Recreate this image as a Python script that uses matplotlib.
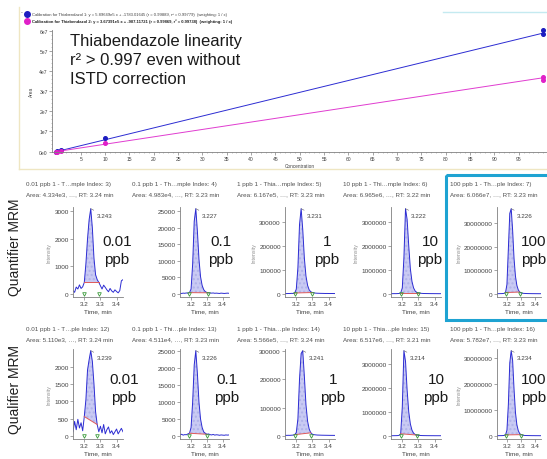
import numpy as np
import matplotlib
matplotlib.use('Agg')
import matplotlib.pyplot as plt
from matplotlib.patches import Rectangle
from matplotlib.ticker import FuncFormatter, MultipleLocator

plt.rcParams['font.family'] = ['Liberation Sans', 'DejaVu Sans']

W, H = 547, 460

# calibration data
conc_1 = [0.01, 0.1, 1, 10, 100, 100]
area_1 = [4.334e3, 4.983e4, 6.167e5, 6.965e6, 6.07e7, 5.85e7]
conc_2 = [0.01, 0.1, 1, 10, 100, 100]
area_2 = [2.6e3, 3.1e4, 3.8e5, 4.2e6, 3.72e7, 3.58e7]
slope_1, icpt_1 = 5.89649e5, -1783.01645
slope_2, icpt_2 = 3.67391e5, -907.11721
legend_1 = ('Calibration for Thiabendazol 1: y = 5.89649e5 x + -1783.01645 '
            '(r = 0.99889, r² = 0.99779)  (weighting: 1 / x)')
legend_2 = ('Calibration for Thiabendazol 2: y = 3.67391e5 x + -907.11721 '
            '(r = 0.99869, r² = 0.99738)  (weighting: 1 / x)')
cal_xticks = [5, 10, 15, 20, 25, 30, 35, 40, 45, 50, 55, 60, 65, 70, 75, 80, 85, 90, 95]
cal_yticks = [0, 1e7, 2e7, 3e7, 4e7, 5e7, 6e7]

# chromatograms
time = [3.13, 3.14, 3.15, 3.16, 3.17, 3.18, 3.19, 3.20, 3.21, 3.22, 3.23,
        3.24, 3.25, 3.26, 3.27, 3.28, 3.29, 3.30, 3.31, 3.32, 3.33, 3.34,
        3.35, 3.36, 3.37, 3.38, 3.39, 3.40, 3.41, 3.42, 3.43, 3.44]

quant = [
    [120, 60, 250, 180, 330, 200, 260, 420, 1100, 2000, 2700, 3100, 2400, 1300, 700, 520,
     420, 300, 180, 320, 240, 150, 80, 200, 110, 60, 150, 90, 40, 120, 480, 520],
    [200, 150, 250, 200, 300, 250, 400, 1500, 9000, 22000, 25800, 19000, 10500, 5200, 2600, 1300,
     700, 450, 350, 300, 250, 300, 200, 250, 200, 150, 250, 200, 150, 200, 250, 200],
    [2000, 1500, 2000, 1800, 2500, 2200, 4000, 20000, 110000, 290000, 357000, 270000, 150000,
     75000, 36000, 17000, 9000, 6000, 4500, 3500, 3000, 2800, 2500, 2400, 2200, 2000, 2100,
     1900, 1800, 1900, 1800, 1700],
    [15000, 12000, 14000, 13000, 16000, 20000, 40000, 250000, 1500000, 3550000, 3100000,
     2000000, 1050000, 520000, 250000, 120000, 65000, 40000, 30000, 25000, 20000, 18000,
     17000, 16000, 15000, 14000, 14000, 13000, 13000, 12000, 12000, 12000],
    [1.5e5, 1.2e5, 1.4e5, 1.5e5, 1.8e5, 2.5e5, 6e5, 4e6, 1.9e7, 3.4e7, 3.6e7, 2.7e7, 1.5e7,
     7.5e6, 3.6e6, 1.7e6, 8e5, 4.5e5, 3e5, 2.4e5, 2e5, 1.8e5, 1.6e5, 1.5e5, 1.4e5, 1.3e5,
     1.3e5, 1.2e5, 1.2e5, 1.1e5, 1.1e5, 1.1e5],
]
qual = [
    [120, 420, 180, 480, 230, 380, 150, 560, 1050, 1900, 2200, 2460, 2150, 1500, 700, 330,
     120, 280, 90, 330, 60, 180, 260, 80, 150, 40, 120, 200, 60, 140, 220, 120],
    [300, 500, 250, 400, 350, 600, 800, 2500, 10000, 21000, 25200, 18500, 10000, 5000, 2500,
     1200, 800, 500, 600, 400, 300, 450, 250, 350, 300, 200, 300, 250, 200, 300, 250, 300],
    [2500, 2000, 2300, 2100, 2600, 3000, 4500, 12000, 60000, 200000, 290000, 300000, 210000,
     110000, 52000, 24000, 11000, 6000, 4500, 3800, 3200, 3000, 2800, 2600, 2500, 2400, 2300,
     2200, 2100, 2100, 2000, 2000],
    [12000, 10000, 12000, 13000, 15000, 25000, 90000, 1200000, 3540000, 3100000, 1900000,
     1000000, 500000, 240000, 115000, 60000, 38000, 27000, 21000, 17000, 15000, 14000, 13000,
     12000, 12000, 11000, 11000, 10000, 10000, 10000, 10000, 10000],
    [1.2e5, 1.1e5, 1.2e5, 1.3e5, 1.5e5, 2e5, 4e5, 2.2e6, 1.2e7, 2.8e7, 3.27e7, 2.9e7, 1.8e7,
     9e6, 4.3e6, 2e6, 9e5, 5e5, 3e5, 2.2e5, 1.8e5, 1.6e5, 1.5e5, 1.4e5, 1.3e5, 1.2e5, 1.2e5,
     1.1e5, 1.1e5, 1.1e5, 1e5, 1e5],
]
quant_win = [(3.20, 3.29), (3.19, 3.31), (3.19, 3.30), (3.19, 3.30), (3.19, 3.29)]
qual_win = [(3.20, 3.28), (3.19, 3.30), (3.19, 3.29), (3.19, 3.29), (3.19, 3.30)]
quant_rt = ['3.243', '3.227', '3.231', '3.222', '3.226']
qual_rt = ['3.239', '3.226', '3.241', '3.214', '3.234']
quant_titles = [
    ('0.01 ppb 1 - T…mple Index: 3)', 'Area: 4.334e3, …, RT: 3.24 min'),
    ('0.1 ppb 1 - Th…mple Index: 4)', 'Area: 4.983e4, …, RT: 3.23 min'),
    ('1 ppb 1 - Thia…mple Index: 5)', 'Area: 6.167e5, …, RT: 3.23 min'),
    ('10 ppb 1 - Thi…mple Index: 6)', 'Area: 6.965e6, …, RT: 3.22 min'),
    ('100 ppb 1 - Th…ple Index: 7)', 'Area: 6.066e7, …, RT: 3.23 min'),
]
qual_titles = [
    ('0.01 ppb 1 - T…ple Index: 12)', 'Area: 5.110e3, …, RT: 3.24 min'),
    ('0.1 ppb 1 - Thi…ple Index: 13)', 'Area: 4.511e4, …, RT: 3.23 min'),
    ('1 ppb 1 - Thia…ple Index: 14)', 'Area: 5.566e5, …, RT: 3.24 min'),
    ('10 ppb 1 - Thia…ple Index: 15)', 'Area: 6.517e6, …, RT: 3.21 min'),
    ('100 ppb 1 - Th…ple Index: 16)', 'Area: 5.782e7, …, RT: 3.23 min'),
]
quant_yticks = [[0, 1000, 2000, 3000], [0, 5000, 10000, 15000, 20000, 25000],
                [0, 100000, 200000, 300000], [0, 1000000, 2000000, 3000000],
                [0, 10000000, 20000000, 30000000]]
qual_yticks = [[0, 500, 1000, 1500, 2000], [0, 5000, 10000, 15000, 20000, 25000],
               [0, 100000, 200000, 300000], [0, 1000000, 2000000, 3000000],
               [0, 10000000, 20000000, 30000000]]
quant_ylab = [True, False, True, True, True]
qual_ylab = [True, False, False, False, True]
levels = ['0.01', '0.1', '1', '10', '100']

BLUE = '#2c2cd2'
PINK = '#e03cd0'
GREY = '#505050'

fig = plt.figure(figsize=(W / 100, H / 100), dpi=100)


def px_axes(x0, y0, x1, y1):
    return fig.add_axes([x0 / W, 1 - y1 / H, (x1 - x0) / W, (y1 - y0) / H])


def style(ax, size):
    for s in ['top', 'right']:
        ax.spines[s].set_visible(False)
    for s in ['left', 'bottom']:
        ax.spines[s].set_color('#808080')
        ax.spines[s].set_linewidth(0.6)
    ax.tick_params(labelsize=size, colors='#808080', labelcolor='#404040',
                   length=2, width=0.5, pad=1)
    ax.patch.set_alpha(0)


# ---- calibration plot ----
ax = px_axes(52, 31, 548, 153)
xs = [0.01, 100]
ax.plot(xs, [slope_1 * v + icpt_1 for v in xs], color=BLUE, lw=0.7)
ax.plot(xs, [slope_2 * v + icpt_2 for v in xs], color=PINK, lw=0.7)
ax.plot(conc_1, area_1, 'o', color='#1c1cc0', ms=2.6, clip_on=False)
ax.plot(conc_2, area_2, 'o', color='#e020c8', ms=2.6, clip_on=False)
ax.set_xlim(-0.9, 101)
ax.set_ylim(-0.02e7, 6.05e7)
ax.set_xticks(cal_xticks)
ax.set_yticks(cal_yticks)
ax.xaxis.set_minor_locator(MultipleLocator(1))
ax.yaxis.set_minor_locator(MultipleLocator(2e6))
ax.yaxis.set_major_formatter(FuncFormatter(
    lambda v, p: '0e0' if v == 0 else '%de7' % round(v / 1e7)))
style(ax, 3.6)
ax.tick_params(which='minor', length=1, width=0.4, colors='#909090')
ax.set_xlabel('Concentration', fontsize=3.4, color='#404040', labelpad=1)
ax.set_ylabel('Area', fontsize=3.4, color='#404040', labelpad=4)


# ---- chromatograms ----
def chrom(x0, x1, y0, y1, y, win, rt, ticks, ylab):
    ax = px_axes(x0, y0, x1, y1)
    t = np.array(time)
    y = np.array(y, dtype=float)
    top = y.max() * 1.02
    ax.plot(t, y, color=BLUE, lw=0.7)
    m = (t >= win[0] - 1e-9) & (t <= win[1] + 1e-9)
    ys, ye = np.interp(win[0], t, y), np.interp(win[1], t, y)
    base = np.interp(t[m], list(win), [ys, ye])
    ax.fill_between(t[m], y[m], base, color='#c9caf3', lw=0, hatch='....',
                    edgecolor='#b0b2ea')
    ax.plot(win, [ys, ye], color='#e05a5a', lw=0.7)
    ax.plot(win, [0, 0], 'v', mfc='none', mec='#3a9a3a', mew=0.6, ms=2.6,
            clip_on=False)
    i = int(np.argmax(y))
    ax.annotate(rt, xy=(t[i], y[i]), xytext=(4, -6), textcoords='offset points',
                fontsize=4.5, color='#404040',
                arrowprops=dict(arrowstyle='-', lw=0.4, color='#606060',
                                shrinkA=0, shrinkB=0))
    ax.set_xlim(3.13, 3.44)
    ax.set_ylim(-0.035 * top, top)
    ax.set_xticks([3.2, 3.3, 3.4])
    ax.set_yticks(ticks)
    ax.set_yticklabels(['%d' % v for v in ticks])
    style(ax, 4.6)
    ax.set_xlabel('Time, min', fontsize=4.6, color='#404040', labelpad=1.5)
    if ylab:
        ax.set_ylabel('Intensity', fontsize=3.8, color='#909090', labelpad=2)
    return ax


spines_x = [73, 180, 285, 391, 497]
right_x = [123, 229, 335, 441, 541]
tile_x = [26, 132, 237, 343, 450]

for k in range(5):
    chrom(spines_x[k], right_x[k], 208, 298, quant[k], quant_win[k], quant_rt[k],
          quant_yticks[k], quant_ylab[k])
    chrom(spines_x[k], right_x[k], 350, 440, qual[k], qual_win[k], qual_rt[k],
          qual_yticks[k], qual_ylab[k])

# ---- overlay in pixel coordinates: texts and frame ----
ov = fig.add_axes([0, 0, 1, 1])
ov.set_xlim(0, W)
ov.set_ylim(H, 0)
ov.axis('off')

ov.plot([19, 19], [8, 170], color='#efe6c2', lw=1)
ov.plot([19, 547], [170, 170], color='#efe6c2', lw=1)
ov.plot([443, 547], [12.5, 12.5], color='#c4eaf0', lw=1)
ov.text(22, 13, '-', fontsize=4, color=GREY, ha='center', va='center')

ov.plot([27], [15], 'o', color='#1c1cc0', ms=4)
ov.plot([27], [22], 'o', color='#e020c8', ms=4)
ov.text(32, 15, legend_1, fontsize=3.0, color='#404040', va='center')
ov.text(32, 22, legend_2, fontsize=3.0, color='#202020', va='center',
        fontweight='bold')

ov.text(70, 34, 'Thiabendazole linearity\nr² > 0.997 even without\nISTD correction',
        fontsize=12, color='#1a1a1a', va='top', ha='left', linespacing=1.35)

ov.add_patch(Rectangle((446, 176), 110, 145, fill=False, ec='#1ea3d2', lw=2.2))

for k in range(5):
    ov.text(tile_x[k], 185, quant_titles[k][0], fontsize=4.5, color=GREY, va='center')
    ov.text(tile_x[k], 195, quant_titles[k][1], fontsize=4.5, color=GREY, va='center')
    ov.text(tile_x[k], 330, qual_titles[k][0], fontsize=4.5, color=GREY, va='center')
    ov.text(tile_x[k], 340, qual_titles[k][1], fontsize=4.5, color=GREY, va='center')

q_cx = [117, 221, 327, 430, 534]
l_cx = [124, 227, 333, 436, 534]
for k in range(5):
    ov.text(q_cx[k], 251, levels[k] + '\nppb', fontsize=11, color='#1a1a1a',
            ha='center', va='center', linespacing=1.35)
    ov.text(l_cx[k], 389, levels[k] + '\nppb', fontsize=11, color='#1a1a1a',
            ha='center', va='center', linespacing=1.35)

ov.text(15, 247, 'Quantifier MRM', fontsize=10, color='#202020', rotation=90,
        ha='center', va='center')
ov.text(15, 390, 'Qualifier MRM', fontsize=10, color='#202020', rotation=90,
        ha='center', va='center')

fig.savefig('out.png', dpi=100)
